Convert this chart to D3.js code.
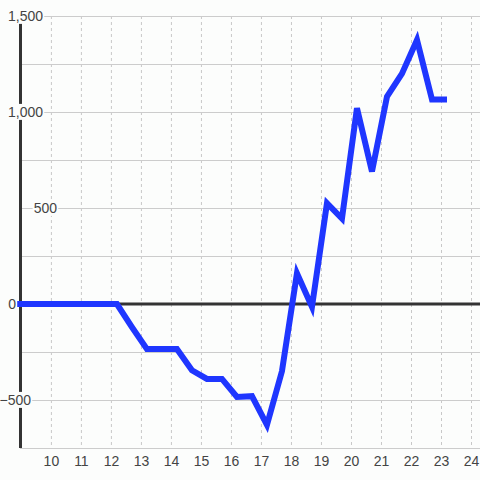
<!DOCTYPE html>
<html>
<head>
<meta charset="utf-8">
<script src="https://cdn.jsdelivr.net/npm/d3@7"></script>
<style>
  body { margin: 0; background: #fcfdfc; }
  svg { display: block; font-family: "Liberation Sans", Arial, sans-serif; }
</style>
</head>
<body>
<div id="chart"></div>
<script>
// Data
const xValues = [8.87, 12.2, 12.7, 13.2, 13.7, 14.2, 14.7, 15.2, 15.7, 16.2, 16.7, 17.2, 17.7,
                 18.2, 18.7, 19.2, 19.7, 20.2, 20.7, 21.2, 21.7, 22.2, 22.7, 23.2];
const yValues = [0, 0, -120, -235, -235, -235, -345, -390, -390, -484, -480, -630, -350,
                 160, -15, 525, 445, 1020, 690, 1080, 1200, 1375, 1065, 1065];
const xTicks = [10, 11, 12, 13, 14, 15, 16, 17, 18, 19, 20, 21, 22, 23, 24];
const yGrid = [-750, -500, -250, 0, 250, 500, 750, 1000, 1250, 1500];
const yLabels = [-500, 0, 500, 1000, 1500];

const W = 480, H = 480;
const bg = "#fcfdfc";

const svg = d3.select("#chart")
    .append("svg")
    .attr("width", W)
    .attr("height", H);

svg.append("rect").attr("width", W).attr("height", H).attr("fill", bg);

const x = d3.scaleLinear().domain([8.97, 24.3]).range([20, 480]);
const y = d3.scaleLinear().domain([-750, 1500]).range([448, 16]);

// vertical dashed grid
svg.append("g")
    .selectAll("line")
    .data(xTicks)
    .enter()
    .append("line")
    .attr("x1", d => x(d) + 0.5)
    .attr("x2", d => x(d) + 0.5)
    .attr("y1", y(1500))
    .attr("y2", y(-750))
    .attr("stroke", "#c8c8c8")
    .attr("stroke-dasharray", "3,3");

// horizontal grid
svg.append("g")
    .selectAll("line")
    .data(yGrid)
    .enter()
    .append("line")
    .attr("x1", 20)
    .attr("x2", W)
    .attr("y1", d => Math.round(y(d)) + 0.5)
    .attr("y2", d => Math.round(y(d)) + 0.5)
    .attr("stroke", "#cccccc");

// y axis line
svg.append("line")
    .attr("x1", 20.5).attr("x2", 20.5)
    .attr("y1", y(1500)).attr("y2", y(-750))
    .attr("stroke", "#333").attr("stroke-width", 3);

// zero line
svg.append("line")
    .attr("x1", 20).attr("x2", W)
    .attr("y1", y(0)).attr("y2", y(0))
    .attr("stroke", "#333").attr("stroke-width", 3);

// x tick labels
svg.append("g")
    .selectAll("text")
    .data(xTicks)
    .enter()
    .append("text")
    .attr("x", d => x(d) + 0.5)
    .attr("y", 466)
    .attr("text-anchor", "middle")
    .attr("font-size", 14)
    .attr("fill", "#444")
    .text(d => d);

// the line
const line = d3.line()
    .x((d, i) => x(xValues[i]))
    .y(d => y(d));

svg.append("path")
    .datum(yValues)
    .attr("d", line)
    .attr("fill", "none")
    .attr("stroke", "#1f36ff")
    .attr("stroke-width", 6);

// y labels with background boxes (label ends vary as in the reference)
const fmt = d3.format(",");
const labelEnd = v => v === 0 ? 16 : v < 0 ? 31 : v === 500 ? 57 : 43;
const yl = svg.append("g");
yLabels.forEach(v => {
    const g = yl.append("g");
    const t = g.append("text")
        .attr("x", labelEnd(v))
        .attr("y", y(v))
        .attr("dy", "0.35em")
        .attr("text-anchor", "end")
        .attr("font-size", 14)
        .attr("fill", "#444")
        .text(fmt(v));
    const b = t.node().getBBox();
    g.insert("rect", "text")
        .attr("x", b.x - 1)
        .attr("y", b.y)
        .attr("width", b.width + 2)
        .attr("height", b.height)
        .attr("fill", bg);
});
</script>
</body>
</html>
